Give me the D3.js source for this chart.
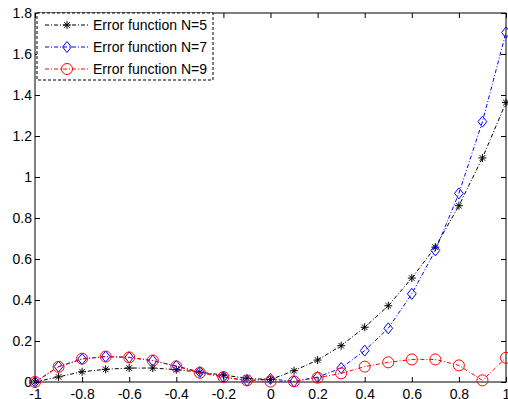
<!DOCTYPE html>
<html><head><meta charset="utf-8">
<script src="https://cdn.jsdelivr.net/npm/d3@7"></script>
<style>body{margin:0;background:#fff}svg{display:block}text{font-family:"Liberation Sans",Arial,sans-serif}</style>
</head><body><div id="c"></div>
<script>
const xs = [-1,-0.9,-0.8,-0.7,-0.6,-0.5,-0.4,-0.3,-0.2,-0.1,0,0.1,0.2,0.3,0.4,0.5,0.6,0.7,0.8,0.9,1];
const errN5 = [0,0.025,0.05,0.062,0.068,0.068,0.06,0.048,0.034,0.018,0.012,0.055,0.107,0.177,0.267,0.372,0.507,0.658,0.86,1.093,1.363];
const errN7 = [0,0.075,0.112,0.124,0.12,0.104,0.078,0.049,0.024,0.007,0.015,0.003,0.024,0.068,0.153,0.262,0.43,0.642,0.92,1.27,1.705];
const errN9 = [0,0.074,0.114,0.124,0.12,0.105,0.076,0.045,0.024,0.008,0.002,0.003,0.021,0.042,0.075,0.096,0.11,0.11,0.081,0.008,0.118];
const seriesNames = ["Error function N=5","Error function N=7","Error function N=9"];
const xTicks = [-1,-0.8,-0.6,-0.4,-0.2,0,0.2,0.4,0.6,0.8,1];
const yTicks = [0,0.2,0.4,0.6,0.8,1,1.2,1.4,1.6,1.8];

const W=508,H=399;
const L=35,R=506,T=13,B=382;
const FS=14;
const svg=d3.select("#c").append("svg").attr("width",W).attr("height",H);
const x=d3.scaleLinear().domain([-1,1]).range([L,R]);
const y=d3.scaleLinear().domain([0,1.8]).range([B,T]);

const fmt=d=>String(d);
svg.append("g").attr("transform",`translate(0,${B})`)
  .call(d3.axisBottom(x).tickValues(xTicks).tickFormat(fmt).tickSizeInner(-5).tickSizeOuter(0).tickPadding(7));
svg.append("g").attr("transform",`translate(0,${T})`)
  .call(d3.axisTop(x).tickValues(xTicks).tickFormat("").tickSizeInner(-5).tickSizeOuter(0));
svg.append("g").attr("transform",`translate(${L},0)`)
  .call(d3.axisLeft(y).tickValues(yTicks).tickFormat(fmt).tickSizeInner(-5).tickSizeOuter(0).tickPadding(3));
svg.append("g").attr("transform",`translate(${R},0)`)
  .call(d3.axisRight(y).tickValues(yTicks).tickFormat("").tickSizeInner(-5).tickSizeOuter(0));
svg.selectAll(".domain").remove();
svg.selectAll(".tick line").attr("stroke","#000");
svg.selectAll(".tick text").attr("font-size",FS).attr("fill","#000");
svg.append("rect").attr("x",L).attr("y",T).attr("width",R-L).attr("height",B-T)
  .attr("fill","none").attr("stroke","#000").attr("stroke-width",1);

const line=d3.line().x((d,i)=>x(xs[i])).y(d=>y(d));
const series=[
  {vals:errN5,color:"#000",marker:"star"},
  {vals:errN7,color:"#0000ff",marker:"diamond"},
  {vals:errN9,color:"#ff0000",marker:"circle"}
];
function drawMarker(g,type,cx,cy,color){
  if(type==="star"){
    const r=4;
    const p=`M${cx-r},${cy}L${cx+r},${cy}M${cx},${cy-r}L${cx},${cy+r}M${cx-r*0.7},${cy-r*0.7}L${cx+r*0.7},${cy+r*0.7}M${cx-r*0.7},${cy+r*0.7}L${cx+r*0.7},${cy-r*0.7}`;
    g.append("path").attr("d",p).attr("stroke",color).attr("stroke-width",1).attr("fill","none");
  } else if(type==="diamond"){
    const r=5.5;
    g.append("path").attr("d",`M${cx},${cy-r}L${cx+r*0.8},${cy}L${cx},${cy+r}L${cx-r*0.8},${cy}Z`)
      .attr("stroke",color).attr("fill","none").attr("stroke-width",1);
  } else {
    g.append("circle").attr("cx",cx).attr("cy",cy).attr("r",5.5)
      .attr("stroke",color).attr("fill","none").attr("stroke-width",1);
  }
}
series.forEach(s=>{
  const g=svg.append("g");
  g.append("path").attr("d",line(s.vals)).attr("fill","none").attr("stroke",s.color)
    .attr("stroke-width",1).attr("stroke-dasharray","4,2,1,2");
  s.vals.forEach((v,i)=>drawMarker(g,s.marker,x(xs[i]),y(v),s.color));
});

const lg=svg.append("g");
lg.append("rect").attr("x",37).attr("y",13).attr("width",176).attr("height",67)
  .attr("fill","#fff").attr("stroke","#000").attr("stroke-dasharray","3,2");
const rowsY=[25,47,69];
series.forEach((s,i)=>{
  lg.append("line").attr("x1",45).attr("x2",89).attr("y1",rowsY[i]).attr("y2",rowsY[i])
    .attr("stroke",s.color).attr("stroke-dasharray","4,2,1,2");
  drawMarker(lg,s.marker,67,rowsY[i],s.color);
  lg.append("text").attr("x",93).attr("y",rowsY[i]+5).attr("font-size",FS).text(seriesNames[i]);
});
</script></body></html>
